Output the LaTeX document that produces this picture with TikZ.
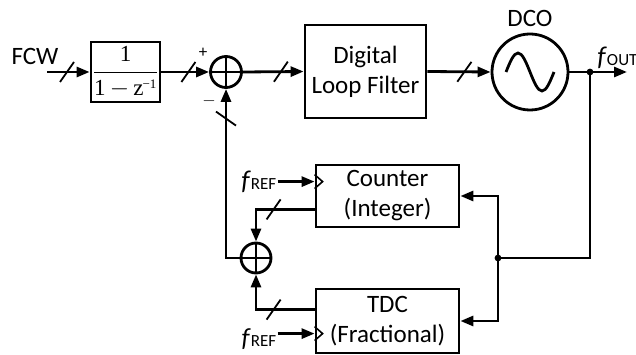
\documentclass[tikz,border=0pt]{standalone}
\usepackage{fontspec}
\setmainfont{Carlito}
\newfontfamily\serif{Liberation Serif}
\usetikzlibrary{positioning,calc,arrows.meta,decorations.markings}

\begin{document}
\begin{tikzpicture}[
  x=1pt, y=-1pt,
  line width=2.8pt,
  every node/.style={font=\fontsize{25}{30}\selectfont},
  blk/.style={rectangle, draw, align=center, inner sep=0pt},
  sumnode/.style={circle, draw, minimum size=31pt, inner sep=0pt,
    path picture={\draw (path picture bounding box.north) -- (path picture bounding box.south)
      (path picture bounding box.west) -- (path picture bounding box.east);}},
  arrow/.style={-{Triangle[length=13pt,width=10pt]}},
  bus/.style={postaction={decorate, decoration={markings,
    mark=at position #1 with {\draw[line width=1.8pt,-] (-7pt,-10pt) -- (7pt,10pt);}}}},
]
\useasboundingbox[fill=white] (0,0) rectangle (636,355);

% === Forward path ===
\node (fcw) at (35,56) {FCW};
\coordinate (in0) at (47,72);
\node[blk, minimum width=69pt, minimum height=60pt] (integ) at (125.5,72)
  {\fontsize{23}{25}\selectfont$\displaystyle\frac{\mbox{\serif 1}}{\mbox{\serif 1}\,{-}\,\mbox{\serif z}^{\mbox{\serif\fontsize{13}{14}\selectfont\kern-1pt −1}}}$};
\node[sumnode] (sum1) at (226,72) {};
\node[font=\fontsize{17}{19}\selectfont] (plus) at (203,53) {+};
\node[font=\fontsize{17}{19}\selectfont] (minus) at (209,101) {$-$};
\node[blk, minimum width=121pt, minimum height=93pt] (dlf) at (365.5,71.5) {Digital\\Loop Filter};
\node[circle, draw, minimum size=76pt, inner sep=0pt] (dco) at (530,72) {};
\node (dcolbl) at (530,18) {DCO};
\draw ([xshift=-24pt]dco.center) sin ++(12,-19) cos ++(12,19) sin ++(12,19) cos ++(12,-19);

\draw[arrow, bus=20pt] (in0) -- (integ.west);
\draw[arrow, bus=27pt] (integ.east) -- (sum1.west);
\draw[arrow, bus=38pt] (sum1.east) -- (dlf.west);
\draw[arrow, bus=37pt] (dlf.east) -- (dco.west);

% === Output ===
\coordinate (outj) at (590,72);
\coordinate (outend) at (627,72);
\draw[arrow] (dco.east) -- (outend);
\fill (outj) circle (3.4pt);
\node[anchor=base west, inner sep=0pt] (fout) at (596,66) {\fontsize{27}{30}\selectfont\textit{f}{\fontsize{17}{18}\selectfont OUT}};

% === Feedback path ===
\node[blk, minimum width=143pt, minimum height=62pt] (cnt) at (387.5,196) {Counter\\(Integer)};
\node[blk, minimum width=143pt, minimum height=64pt] (tdc) at (387.5,321) {TDC\\(Fractional)};
\node[sumnode, minimum size=30pt] (sum2) at (256,258) {};
\coordinate (rj) at (498,258);

\draw (outj) |- (rj);
\fill (rj) circle (3.4pt);
\draw[arrow] (rj) |- (cnt.east);
\draw[arrow] (rj) |- (tdc.east);

\coordinate (cntout) at ($(cnt.south west)+(0,-19)$);
\coordinate (tdcout) at ($(tdc.north west)+(0,22)$);
\draw[arrow, bus=41pt] (cntout) -| (sum2.north);
\draw[arrow, bus=41pt] (tdcout) -| (sum2.south);
\draw[arrow, bus=153pt] (sum2.west) -| (sum1.south);

% === Reference clocks ===
\coordinate (clk1) at ($(cnt.north west)+(0,18)$);
\coordinate (clk2) at ($(tdc.north west)+(0,46)$);
\node[anchor=east, inner sep=0pt] (fref1) at ($(clk1)+(-37,0)$) {\fontsize{27}{30}\selectfont\textit{f}{\fontsize{17}{18}\selectfont REF}};
\node[anchor=north east, inner sep=0pt] (fref2) at ($(clk2)+(-37,-6)$) {\fontsize{26}{30}\selectfont\textit{f}{\fontsize{17}{18}\selectfont REF}};
\draw[arrow] (fref1.east) -- (clk1);
\draw[arrow] (fref2.north east |- clk2) -- (clk2);
\draw[line width=1.6pt] ($(clk1)+(0,-7)$) -- ++(8,7) -- ++(-8,7);
\draw[line width=1.6pt] ($(clk2)+(0,-7)$) -- ++(8,7) -- ++(-8,7);

\end{tikzpicture}
\end{document}
